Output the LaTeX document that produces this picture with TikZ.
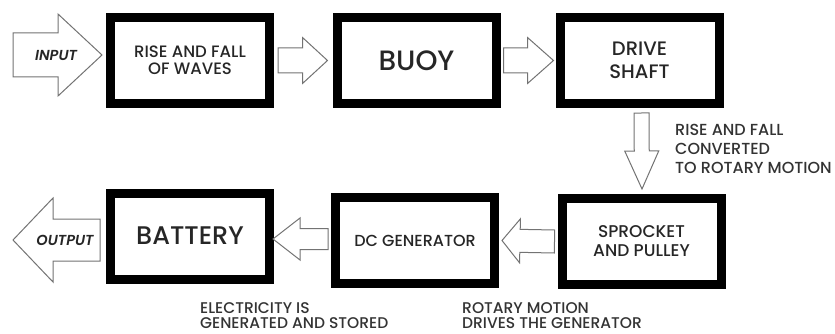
\documentclass[tikz,border=0pt]{standalone}
\usepackage{fontspec}
\setmainfont{Poppins}[UprightFont=* Medium, ItalicFont=* SemiBold Italic]
\usetikzlibrary{calc}
\tikzset{
  blk/.style={draw=black, line width=9pt, minimum width=159pt, minimum height=86pt,
    inner sep=0pt, outer sep=0pt, align=center, text=black!85},
  lbl/.style={align=left, anchor=north west, inner sep=0pt, text=black!80,
    font=\fontsize{15.5}{15.5}\selectfont},
  barrow/.style={draw=black!55, line width=1pt, fill=white, line join=miter},
  arrtxt/.style={inner sep=0pt, text=black!85, font=\itshape\fontsize{14.5}{16}\selectfont},
}
% #1 start, #2 tip, #3 shaft half width, #4 head half width, #5 head length
\newcommand\blockarrow[5]{%
  \coordinate (hb) at ($(#2)!#5!(#1)$);
  \draw[barrow] ($(#1)!#3!90:(#2)$) -- ($(hb)!#3!-90:(#1)$) -- ($(hb)!#4!-90:(#1)$)
    -- (#2) -- ($(hb)!#4!90:(#1)$) -- ($(hb)!#3!90:(#1)$) -- ($(#1)!#3!-90:(#2)$) -- cycle;
}
\begin{document}
\begin{tikzpicture}[x=1pt,y=-1pt]
\useasboundingbox (0,0) rectangle (835,334);
% boxes
\node[blk, font=\fontsize{16.5}{17}\selectfont] (b1) at (190,60.5) {RISE AND FALL\\OF WAVES};
\node[blk, font=\fontsize{28}{30}\selectfont] (b2) at (416.5,60.5) {BUOY};
\node[blk, font=\fontsize{19.5}{23}\selectfont] (b3) at (639.5,60.5) {DRIVE\\SHAFT};
\node[blk, font=\fontsize{17}{19}\selectfont] (b4) at (641.5,241.5) {SPROCKET\\AND PULLEY};
\node[blk, font=\fontsize{16}{18}\selectfont] (b5) at (415,240.5) {DC GENERATOR};
\node[blk, font=\fontsize{25.5}{28}\selectfont] (b6) at (190,236) {BATTERY};
% arrow end points
\coordinate (inS) at (13,55);
\coordinate (inT) at ($(b1.west)+(-8.5,-5.5)$);
\coordinate (a1S) at ($(b1.east)+(8.5,0)$);
\coordinate (a1T) at ($(b2.west)+(-9.5,0)$);
\coordinate (a2S) at ($(b2.east)+(7.5,0)$);
\coordinate (a2T) at ($(b3.west)+(-6.5,0)$);
\coordinate (a3S) at ($(b3.south)+(2,9.5)$);
\coordinate (a3T) at ($(b4.north)+(0.5,-9.5)$);
\coordinate (a4S) at ($(b4.west)+(-7.5,0)$);
\coordinate (a4T) at ($(b5.east)+(7.5,0)$);
\coordinate (a5S) at ($(b5.west)+(-7.5,-1.5)$);
\coordinate (a5T) at ($(b6.east)+(3.5,3)$);
\coordinate (outS) at ($(b6.west)+(-10.5,4)$);
\coordinate (outT) at (13,240);
% block arrows
\blockarrow{inS}{inT}{22pt}{41pt}{44pt}
\blockarrow{a1S}{a1T}{12.5pt}{23pt}{25pt}
\blockarrow{a2S}{a2T}{12.5pt}{23pt}{26pt}
\blockarrow{a3S}{a3T}{7.5pt}{17pt}{38pt}
\blockarrow{a4S}{a4T}{11.5pt}{22pt}{18pt}
\blockarrow{a5S}{a5T}{10.5pt}{21pt}{27pt}
\blockarrow{outS}{outT}{21pt}{42pt}{40pt}
\node[arrtxt] (tin) at (56,55) {INPUT};
\node[arrtxt] (tout) at (65,240) {OUTPUT};
% labels
\node[lbl, font=\fontsize{16}{19}\selectfont] (l1) at (675,124) {RISE AND FALL\\CONVERTED\\TO ROTARY MOTION};
\node[lbl] (l2) at (462,302) {ROTARY MOTION\\DRIVES THE GENERATOR};
\node[lbl] (l3) at (200,302) {ELECTRICITY IS\\GENERATED AND STORED};
\end{tikzpicture}
\end{document}
